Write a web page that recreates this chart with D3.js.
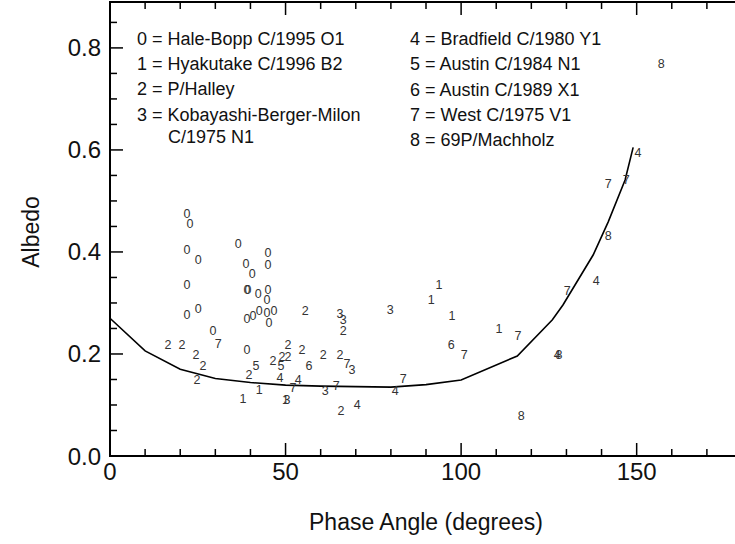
<!DOCTYPE html>
<html>
<head>
  <meta charset="utf-8">
  <title>Comet albedo vs phase angle</title>
  <script src="https://d3js.org/d3.v7.min.js"></script>
  <style>
    body { margin: 0; background: #fff; }
    text { font-family: "Liberation Sans", Arial, sans-serif; }
  </style>
</head>
<body>

  <svg width="735" height="544"></svg>

  <script>

    // Observations, one array per comet: [phase angle (deg), albedo]
    const haleBopp = [
      [21.9, 0.475], [22.8, 0.455], [21.9, 0.404], [25.1, 0.386], [36.5, 0.416],
      [45.0, 0.398], [45.0, 0.376], [38.7, 0.378], [40.5, 0.357], [21.9, 0.337],
      [39.0, 0.327], [39.3, 0.327], [42.2, 0.318], [45.0, 0.327], [44.7, 0.306],
      [25.1, 0.290], [21.9, 0.278], [29.3, 0.247], [39.0, 0.269], [40.7, 0.276],
      [42.5, 0.286], [44.7, 0.282], [46.7, 0.286], [45.3, 0.261], [39.0, 0.208]
    ];
    const hyakutake = [
      [42.5, 0.131], [37.9, 0.112], [93.7, 0.337], [91.5, 0.306], [97.4, 0.276],
      [110.8, 0.249], [50.0, 0.110]
    ];
    const halley = [
      [16.5, 0.218], [20.5, 0.218], [24.5, 0.198], [26.5, 0.178], [24.8, 0.149],
      [39.6, 0.159], [55.6, 0.286], [66.4, 0.247], [50.7, 0.218], [54.7, 0.208],
      [46.4, 0.188], [49.0, 0.196], [50.7, 0.196], [60.7, 0.198], [65.5, 0.198],
      [65.8, 0.090]
    ];
    const kbm = [
      [65.5, 0.280], [66.4, 0.267], [68.9, 0.169], [61.3, 0.129], [50.4, 0.110],
      [79.8, 0.288]
    ];
    const bradfield = [
      [48.4, 0.153], [53.6, 0.149], [70.4, 0.100], [81.2, 0.129], [150.4, 0.594],
      [138.5, 0.345], [127.4, 0.198]
    ];
    const austin84 = [[41.6, 0.178], [48.7, 0.178]];
    const austin89 = [[56.7, 0.178], [97.2, 0.218]];
    const west = [
      [30.8, 0.220], [52.1, 0.135], [64.4, 0.139], [67.5, 0.182], [83.5, 0.151],
      [100.9, 0.198], [116.2, 0.237], [130.2, 0.325], [141.9, 0.535], [147.0, 0.543]
    ];
    const machholz = [[141.9, 0.433], [127.9, 0.198], [117.1, 0.080], [157.0, 0.769]];

    const seriesMarks = ["0", "1", "2", "3", "4", "5", "6", "7", "8"];
    const seriesData = [haleBopp, hyakutake, halley, kbm, bradfield, austin84, austin89, west, machholz];

    // Phase curve
    const curveAngles = [0, 10, 20, 30, 40, 50, 60, 70, 80, 90, 100, 116, 126, 129, 137.6, 141.9, 146.7, 149];
    const curveAlbedo = [0.27, 0.206, 0.17, 0.152, 0.144, 0.139, 0.137, 0.136, 0.135, 0.14, 0.149, 0.196, 0.267, 0.296, 0.394, 0.459, 0.541, 0.605];

    const legendLeft = [
      ["0 = Hale-Bopp C/1995 O1"],
      ["1 = Hyakutake C/1996 B2"],
      ["2 = P/Halley"],
      ["3 = Kobayashi-Berger-Milon", "C/1975 N1"]
    ];
    const legendRight = [
      "4 = Bradfield C/1980 Y1",
      "5 = Austin C/1984 N1",
      "6 = Austin C/1989 X1",
      "7 = West C/1975 V1",
      "8 = 69P/Machholz"
    ];

    const xTicks = [0, 50, 100, 150];
    const yTicks = [0.0, 0.2, 0.4, 0.6, 0.8];

    // Layout
    const plotLeft = 110, plotRight = 742, plotTop = 2, plotBottom = 456;

    const svg = d3.select("svg");

    const x = d3.scaleLinear().domain([0, 180]).range([plotLeft, plotRight]);
    const y = d3.scaleLinear().domain([0, 0.89]).range([plotBottom, plotTop]);

    // Minor/major ticks drawn inward
    const xMinor = d3.range(0, 181, 10);
    const yMinor = d3.range(0, 0.9, 0.05).map(v => +v.toFixed(2));

    const ticks = svg.append("g").attr("stroke", "#000").attr("stroke-width", 1.5);
    xMinor.forEach(v => {
      const len = v % 50 === 0 ? 13 : 7;
      ticks.append("line").attr("x1", x(v)).attr("x2", x(v)).attr("y1", plotBottom).attr("y2", plotBottom - len);
      ticks.append("line").attr("x1", x(v)).attr("x2", x(v)).attr("y1", plotTop).attr("y2", plotTop + len);
    });
    yMinor.forEach(v => {
      const major = Math.abs(v / 0.2 - Math.round(v / 0.2)) < 1e-6;
      const len = major ? 13 : 7;
      ticks.append("line").attr("x1", plotLeft).attr("x2", plotLeft + len).attr("y1", y(v)).attr("y2", y(v));
    });

    // Frame
    svg.append("path")
      .attr("d", `M${plotRight},${plotTop}H${plotLeft}V${plotBottom}H${plotRight}`)
      .attr("fill", "none")
      .attr("stroke", "#000")
      .attr("stroke-width", 2);

    // Tick labels
    svg.append("g").selectAll("text")
      .data(xTicks)
      .enter().append("text")
        .attr("x", d => x(d))
        .attr("y", plotBottom + 24)
        .attr("text-anchor", "middle")
        .attr("font-size", 24)
        .attr("fill", "#111")
        .text(d => d);

    svg.append("g").selectAll("text")
      .data(yTicks)
      .enter().append("text")
        .attr("x", plotLeft - 9)
        .attr("y", d => y(d) + 8.5)
        .attr("text-anchor", "end")
        .attr("font-size", 24)
        .attr("fill", "#111")
        .text(d => d.toFixed(1));

    // Axis titles
    svg.append("text")
      .attr("transform", `translate(39,232) rotate(-90)`)
      .attr("text-anchor", "middle")
      .attr("font-size", 23)
      .attr("fill", "#111")
      .text("Albedo");

    svg.append("text")
      .attr("x", 426)
      .attr("y", 530)
      .attr("text-anchor", "middle")
      .attr("font-size", 23)
      .attr("fill", "#111")
      .text("Phase Angle (degrees)");

    // Phase curve
    const line = d3.line()
      .x(d => x(d[0]))
      .y(d => y(d[1]));

    svg.append("path")
      .datum(curveAngles.map((a, i) => [a, curveAlbedo[i]]))
      .attr("d", line)
      .attr("fill", "none")
      .attr("stroke", "#000")
      .attr("stroke-width", 1.6);

    // Observation marks (the comet number as symbol)
    const marks = svg.append("g").style("opacity", 0.999);
    seriesData.forEach((pts, i) => {
      marks.append("g").selectAll("text")
        .data(pts)
        .enter().append("text")
          .attr("x", d => x(d[0]))
          .attr("y", d => y(d[1]) + 4.5)
          .attr("text-anchor", "middle")
          .attr("font-size", 12.5)
          .attr("fill", "#333")
          .text(seriesMarks[i]);
    });

    // Legend
    const legend = svg.append("g").attr("font-size", 18).attr("fill", "#111");
    const leftRows = [45, 70, 95, 121, 143];
    let row = 0;
    legendLeft.forEach(item => {
      item.forEach((t, j) => {
        legend.append("text")
          .attr("x", j === 0 ? 137 : 168)
          .attr("y", leftRows[row])
          .text(t);
        row++;
      });
    });
    legendRight.forEach((t, i) => {
      legend.append("text")
        .attr("x", 410)
        .attr("y", 45 + i * 25.3)
        .text(t);
    });

  </script>

</body>
</html>
